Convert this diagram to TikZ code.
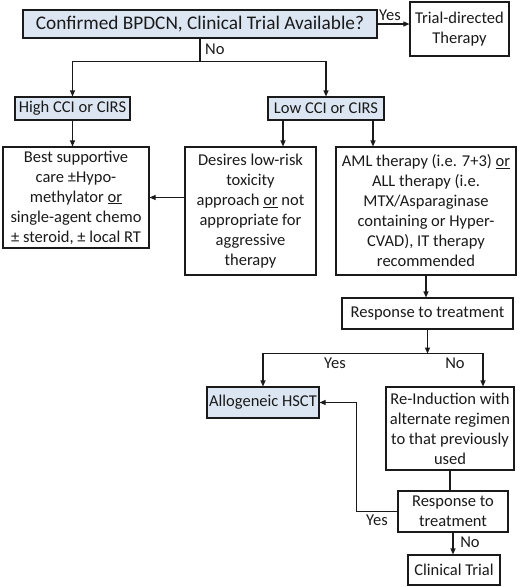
\documentclass[tikz,border=0pt]{standalone}
\usepackage{fontspec}
\setmainfont{Carlito}
\usetikzlibrary{arrows.meta}
\definecolor{boxblue}{HTML}{DCE6F2}
\definecolor{ink}{HTML}{1A1A1A}
\begin{document}
\begin{tikzpicture}[x=1pt,y=-1pt,
  every node/.style={font=\fontsize{16.5}{20}\selectfont, text=ink},
  box/.style={draw=ink, line width=1.1pt, fill=white, align=center, inner sep=0pt},
  bluebox/.style={box, fill=boxblue},
  arr/.style={draw=ink, line width=1.1pt, -{Triangle[length=6pt,width=5pt]}},
  ln/.style={draw=ink, line width=1.1pt},
  lbl/.style={inner sep=0pt}]
\useasboundingbox (0,0) rectangle (520,587);

\node[bluebox, minimum width=354, minimum height=28, font=\fontsize{19.3}{22}\selectfont] (top) at (200,24) {Confirmed BPDCN, Clinical Trial Available?};
\node[box, minimum width=99, minimum height=54] (trial) at (459.5,29) {Trial-directed\\Therapy};
\node[bluebox, minimum width=115, minimum height=23] (high) at (72.5,108.5) {High CCI or CIRS};
\node[bluebox, minimum width=116, minimum height=23] (low) at (326,108.5) {Low CCI or CIRS};
\node[box, minimum width=146, minimum height=101] (best) at (76,197.5) {Best supportive\\care ±Hypo-\\methylator \underline{or}\\single-agent chemo\\± steroid, ± local RT};
\node[box, minimum width=131, minimum height=128] (des) at (250.5,211) {Desires low-risk\\toxicity\\approach \underline{or} not\\appropriate for\\aggressive\\therapy};
\node[box, minimum width=180, minimum height=128] (aml) at (426,211) {AML therapy (i.e. 7+3) \underline{or}\\ALL therapy (i.e.\\MTX/Asparaginase\\containing or Hyper-\\CVAD), IT therapy\\recommended};
\node[box, minimum width=171, minimum height=31] (resp) at (427.5,313.5) {Response to treatment};
\node[bluebox, minimum width=112, minimum height=31] (allo) at (263,402.5) {Allogeneic HSCT};
\node[box, minimum width=128, minimum height=83] (reind) at (450,428.5) {Re-Induction with\\alternate regimen\\to that previously\\used};
\node[box, minimum width=110, minimum height=41] (resp2) at (453,511.5) {Response to\\treatment};
\node[box, minimum width=92, minimum height=30] (clin) at (454,570) {Clinical Trial};

% top to trial
\draw[arr] (top.east) -- (top.east -| trial.west);
\node[lbl, anchor=south west] (yes1) at (379,21) {Yes};

% No split
\draw[ln] (top.south) -- ++(0,23) coordinate (s1);
\node[lbl, anchor=west] (no1) at (205,49) {No};
\draw[arr] (s1) -| (high.north);
\draw[arr] (s1) -| (low.north);

\draw[arr] (high.south) -- (high.south |- best.north);
\coordinate (l1) at ([xshift=-43pt]low.south);
\coordinate (l2) at ([xshift=47pt]low.south);
\draw[arr] (l1) -- (l1 |- des.north);
\draw[arr] (l2) -- (l2 |- aml.north);
\draw[arr] (des.west |- best.east) -- (best.east);

\draw[arr] (aml.south) -- (aml.south |- resp.north);
\draw[arr] (resp.south) -- ++(0,24) coordinate (s2);
\coordinate (r1) at ([xshift=33pt]reind.north);
\draw[arr] (s2) -| (allo.north);
\draw[arr] (s2) -| (r1);
\node[lbl] (yes2) at (335,363) {Yes};
\node[lbl] (no2) at (455,363) {No};

\draw[ln] (reind.south) -- (reind.south |- resp2.north);
\draw[arr] (resp2.west) -- ++(-41,0) |- (allo.east);
\node[lbl] (yes3) at (377,520) {Yes};
\draw[arr] (resp2.south) -- (resp2.south |- clin.north);
\node[lbl] (no3) at (470,542) {No};
\end{tikzpicture}
\end{document}
